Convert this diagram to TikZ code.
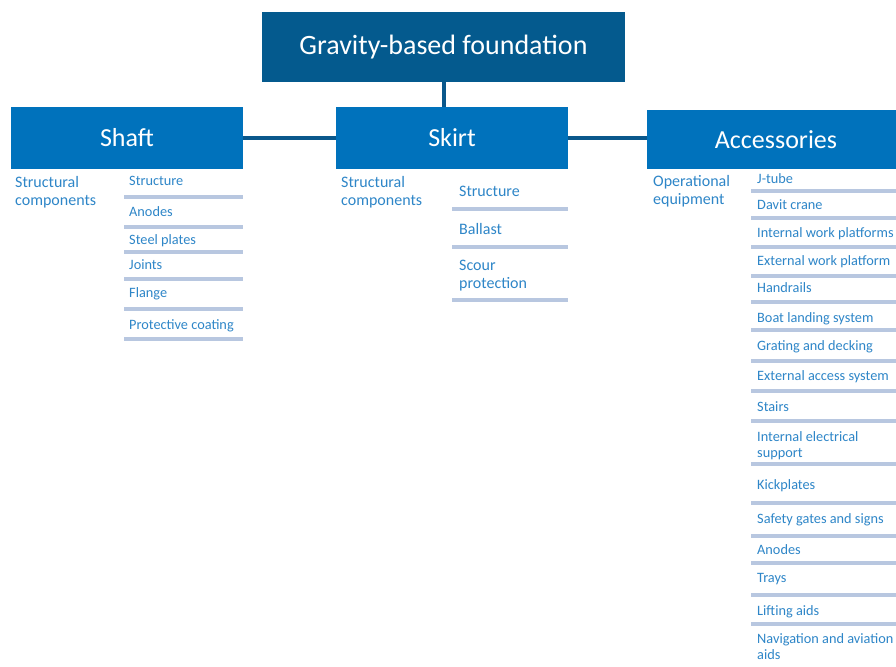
\documentclass[tikz,border=0pt]{standalone}
\usepackage{fontspec}
\setmainfont{Carlito}
\definecolor{topblue}{RGB}{4,90,142}
\definecolor{midblue}{RGB}{0,114,188}
\definecolor{connblue}{RGB}{10,88,140}
\definecolor{txtblue}{RGB}{46,134,200}
\definecolor{barblue}{RGB}{184,199,224}
\tikzset{
  topbox/.style={fill=topblue, text=white, minimum width=363pt, minimum height=70pt, inner sep=0pt, font=\fontsize{28pt}{31pt}\selectfont},
  midbox/.style={fill=midblue, text=white, minimum height=62pt, inner sep=0pt, font=\fontsize{26pt}{29pt}\selectfont},
  conn/.style={draw=connblue, line width=4pt},
  grouplabel/.style={anchor=base west, yshift=-6.5pt, align=left, text=txtblue, inner sep=0pt, font=\fontsize{16pt}{18pt}\selectfont},
  itemtext/.style={anchor=base west, yshift=-5.5pt, align=left, text=txtblue, inner sep=0pt, font=\fontsize{14.3pt}{16pt}\selectfont},
  bigitem/.style={itemtext, yshift=-0.5pt, font=\fontsize{16pt}{18pt}\selectfont},
  bar/.style={draw=barblue, line width=4pt}
}
\begin{document}
\begin{tikzpicture}[x=1pt, y=-1pt]
\useasboundingbox (0,0) rectangle (896,666);
\clip (0,0) rectangle (896,666);
\fill[white] (0,0) rectangle (896,666);
% boxes
\node[topbox] (gbf) at (443.5,47) {Gravity-based foundation};
\node[midbox, minimum width=232pt] (shaft) at (127,138) {Shaft};
\node[midbox, minimum width=232pt] (skirt) at (452,138) {Skirt};
\node[midbox, minimum width=258pt, minimum height=59pt] (acc) at (776,139.5) {Accessories};
% connectors
\draw[conn] (gbf.south) -- (gbf.south |- skirt.north);
\draw[conn] (shaft.east) -- (skirt.west);
\draw[conn] (skirt.east) -- (skirt.east -| acc.west);
% group labels (positions give the last line)
\node[grouplabel] (shaftlab) at (15,199) {Structural\\components};
\node[grouplabel] (skirtlab) at (341,199) {Structural\\components};
\node[grouplabel] (acclab) at (653,198) {Operational\\equipment};
% shaft items
\foreach \t/\y/\b [count=\i] in {Structure/180/197, Anodes/211/227, Steel plates/239/252, Joints/264/279, Flange/292/309, Protective coating/324/339}{
  \node[itemtext] (shaftitem\i) at (129,\y) {\t};
  \draw[bar] (124,\b) -- (243,\b);
}
% skirt items
\foreach \t/\y/\b [count=\i] in {Structure/190/209, Ballast/228/247, {Scour\\protection}/282/300}{
  \node[bigitem] (skirtitem\i) at (459,\y) {\t};
  \draw[bar] (452,\b) -- (568,\b);
}
% accessories items
\foreach \t/\y/\b [count=\i] in {J-tube/178/191, Davit crane/204/218, Internal work platforms/232/247, External work platform/260/276, Handrails/287/302, Boat landing system/317/330, Grating and decking/345/361, External access system/375/391, Stairs/406/421, {Internal electrical\\support}/452/464, Kickplates/484/503, Safety gates and signs/518/536, Anodes/549/563, Trays/577/595, Lifting aids/610/624}{
  \node[itemtext] (accitem\i) at (757,\y) {\t};
  \draw[bar] (751,\b) -- (896,\b);
}
\node[itemtext] (accitem16) at (757,654) {Navigation and aviation\\aids};
\end{tikzpicture}
\end{document}
